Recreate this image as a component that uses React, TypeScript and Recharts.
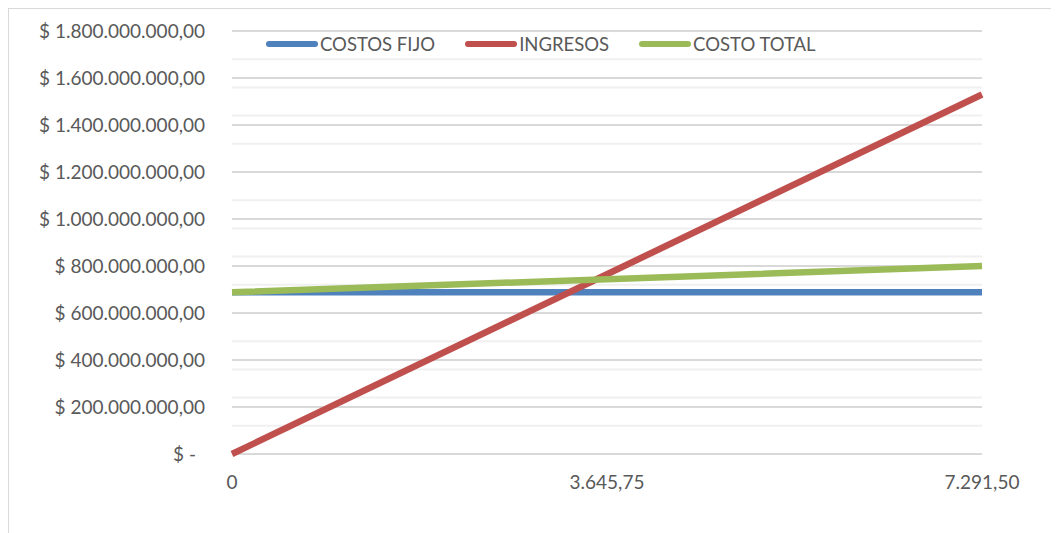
import React from "react";
import { LineChart, Line, XAxis, YAxis, CartesianGrid } from "recharts";

// unidades producidas (eje X)
const unidades = [0, 3645.75, 7291.5];
const costosFijo = [688000000, 688000000, 688000000];
const ingresos = [0, 765000000, 1530000000];
const costoTotal = [688000000, 744000000, 800000000];

const yTicks = [0, 200000000, 400000000, 600000000, 800000000, 1000000000, 1200000000, 1400000000, 1600000000, 1800000000];
const minorTicks = Array.from({ length: 46 }, (_, i) => i * 40000000);

const SERIES = [
  { key: "fijo", name: "COSTOS FIJO", color: "#4f81bd" },
  { key: "ingresos", name: "INGRESOS", color: "#c0504d" },
  { key: "total", name: "COSTO TOTAL", color: "#9bbb59" },
];

const data = unidades.map((q, i) => ({
  q,
  fijo: costosFijo[i],
  ingresos: ingresos[i],
  total: costoTotal[i],
}));

const FONT = "Lato, 'Open Sans', sans-serif";
const TEXT = "#595959";
const FS = 19;

const fmtNum = (v: number, dec: number) =>
  v.toLocaleString("de-DE", { minimumFractionDigits: dec, maximumFractionDigits: dec });

const YTick = ({ x, y, payload }: { x?: number; y?: number; payload?: { value: number } }) => {
  const v = payload?.value ?? 0;
  return (
    <text x={(x ?? 0) - (v === 0 ? 9 : 0)} y={y} dy="0.35em" textAnchor="end" fill={TEXT} fontSize={FS} fontFamily={FONT}>
      {v === 0 ? "$ -" : `$ ${fmtNum(v, 2)}`}
    </text>
  );
};

// leyenda encima del área de trazado, sin ocupar espacio del gráfico
const LegendRow = () => (
  <div style={{ position: "absolute", top: 24, left: 257, display: "flex", fontFamily: FONT, fontSize: FS - 0.5, color: TEXT, lineHeight: "22px" }}>
    {SERIES.map((s) => (
      <div key={s.key} style={{ display: "flex", alignItems: "center", marginRight: 30 }}>
        <span style={{ width: 52, height: 6, borderRadius: 3, background: s.color, marginRight: 2 }} />
        <span>{s.name}</span>
      </div>
    ))}
  </div>
);

export default function App() {
  return (
    <div style={{ position: "relative", width: 1051, height: 525, borderTop: "1px solid #d9d9d9", borderLeft: "1px solid #d9d9d9", background: "#fff" }}>
      <LineChart width={1050} height={524} data={data} margin={{ top: 22, right: 77, bottom: 39, left: 0 }}>
        <CartesianGrid vertical={false} horizontalValues={minorTicks} stroke="#f0f0f0" strokeWidth={2} />
        <CartesianGrid vertical={false} horizontalValues={yTicks} stroke="#d9d9d9" strokeWidth={2} />
        <XAxis
          dataKey="q"
          axisLine={false}
          tickLine={false}
          tickSize={0}
          tickMargin={22}
          height={40}
          tick={{ fontSize: FS, fill: TEXT, fontFamily: FONT }}
          tickFormatter={(v: number) => (v === 0 ? "0" : fmtNum(v, 2))}
        />
        <YAxis
          type="number"
          domain={[0, 1800000000]}
          ticks={yTicks}
          width={223}
          axisLine={false}
          tickLine={false}
          tickSize={0}
          tickMargin={27}
          tick={<YTick />}
        />
        {SERIES.map((s) => (
          <Line
            key={s.key}
            dataKey={s.key}
            name={s.name}
            stroke={s.color}
            strokeWidth={6.5}
            dot={false}
            activeDot={false}
            isAnimationActive={false}
          />
        ))}
      </LineChart>
      <LegendRow />
    </div>
  );
}
